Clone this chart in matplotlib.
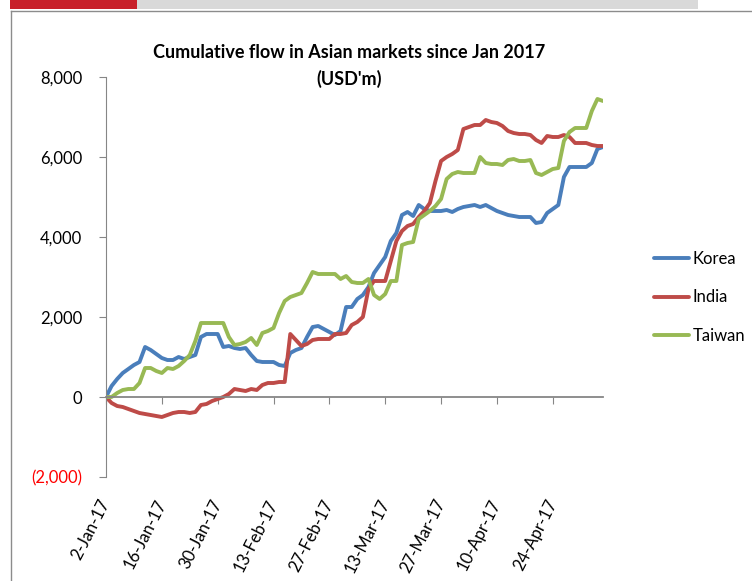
import matplotlib
matplotlib.use("Agg")
import matplotlib.pyplot as plt
from matplotlib.patches import Rectangle
from matplotlib.lines import Line2D
from matplotlib.ticker import FuncFormatter

plt.rcParams['font.family'] = ['Lato', 'DejaVu Sans']

# business days from 2-Jan-17, labelled every 10th day
tick_labels = ["2-Jan-17", "16-Jan-17", "30-Jan-17", "13-Feb-17", "27-Feb-17",
               "13-Mar-17", "27-Mar-17", "10-Apr-17", "24-Apr-17"]

korea = [0, 275, 450, 600, 700, 800, 875, 1250, 1175, 1075,
         975, 925, 925, 1000, 950, 1000, 1050, 1500, 1575, 1575,
         1575, 1250, 1275, 1225, 1200, 1225, 1050, 900, 875, 875,
         875, 800, 775, 1100, 1175, 1225, 1500, 1750, 1775, 1700,
         1625, 1550, 1650, 2250, 2250, 2450, 2550, 2750, 3100, 3300,
         3500, 3900, 4100, 4550, 4625, 4525, 4800, 4700, 4650, 4650,
         4650, 4675, 4625, 4700, 4750, 4775, 4800, 4750, 4800, 4725,
         4650, 4600, 4550, 4525, 4500, 4500, 4500, 4350, 4375, 4600,
         4700, 4800, 5500, 5750, 5750, 5750, 5750, 5850, 6200, 6250]

india = [0, -150, -225, -250, -300, -350, -400, -425, -450, -475,
         -500, -450, -400, -375, -375, -400, -375, -200, -175, -100,
         -50, 0, 75, 200, 175, 150, 200, 175, 300, 350,
         350, 375, 375, 1575, 1425, 1275, 1325, 1425, 1450, 1450,
         1450, 1575, 1575, 1600, 1800, 1875, 2000, 2700, 2900, 2900,
         2900, 3400, 3900, 4150, 4275, 4325, 4500, 4650, 4850, 5400,
         5900, 6000, 6075, 6175, 6700, 6750, 6800, 6800, 6925, 6875,
         6850, 6775, 6650, 6600, 6575, 6575, 6550, 6425, 6350, 6525,
         6500, 6500, 6550, 6500, 6350, 6350, 6350, 6300, 6275, 6275]

taiwan = [0, 0, 100, 175, 200, 200, 350, 725, 725, 650,
          600, 725, 700, 775, 900, 1050, 1400, 1850, 1850, 1850,
          1850, 1850, 1500, 1300, 1325, 1375, 1475, 1300, 1600, 1650,
          1725, 2100, 2400, 2500, 2550, 2600, 2850, 3125, 3075, 3075,
          3075, 3075, 2950, 3025, 2875, 2850, 2850, 2950, 2550, 2450,
          2575, 2900, 2900, 3800, 3850, 3875, 4450, 4550, 4650, 4775,
          4950, 5450, 5575, 5625, 5600, 5600, 5600, 6000, 5850, 5825,
          5825, 5800, 5925, 5950, 5900, 5900, 5925, 5600, 5550, 5625,
          5700, 5725, 6400, 6625, 6725, 6725, 6725, 7150, 7450, 7400]

series = [("Korea", korea, "#4A7EBB"),
          ("India", india, "#BE4B48"),
          ("Taiwan", taiwan, "#98B954")]

W, H = 752, 581
fig = plt.figure(figsize=(W / 100, H / 100), dpi=100)

# page decorations: header bars and frame
fig.add_artist(Rectangle((10 / W, 1 - 9 / H), 127 / W, 9 / H, transform=fig.transFigure,
                         color="#C8202A", lw=0))
fig.add_artist(Rectangle((137 / W, 1 - 9 / H), 561 / W, 9 / H, transform=fig.transFigure,
                         color="#D9D9D9", lw=0))
fig.add_artist(Line2D([10.5 / W, 1], [1 - 11 / H, 1 - 11 / H], transform=fig.transFigure,
                      color="#8C8C8C", lw=1))
fig.add_artist(Line2D([10.5 / W, 10.5 / W], [0, 1 - 11 / H], transform=fig.transFigure,
                      color="#8C8C8C", lw=1))

ax = fig.add_axes([106 / W, 1 - 477 / H, 497 / W, 400 / H])
x = list(range(len(korea)))
for name, vals, col in series:
    ax.plot(x, vals, color=col, lw=2.8, label=name, solid_capstyle="round")

ax.set_xlim(0, len(korea) - 1)
ax.set_ylim(-2000, 8000)
ax.set_yticks(range(-2000, 8001, 2000))
ax.yaxis.set_major_formatter(FuncFormatter(
    lambda v, p: f"({abs(v):,.0f})" if v < 0 else f"{v:,.0f}"))
ax.tick_params(axis="y", direction="out", length=5, color="#868686", pad=12,
               labelsize=12)
for lab in ax.get_yticklabels():
    if lab.get_text().startswith("("):
        lab.set_color("#FF0000")

for s in ["top", "right"]:
    ax.spines[s].set_visible(False)
ax.spines["left"].set_color("#868686")
ax.spines["bottom"].set_position(("data", 0))
ax.spines["bottom"].set_color("#868686")
ax.spines["bottom"].set_linewidth(1.3)

ticks = list(range(0, len(korea), 10))
ax.set_xticks(ticks)
ax.tick_params(axis="x", direction="out", length=5, color="#868686", labelbottom=False)

sec = ax.secondary_xaxis(0)
sec.set_xticks(ticks)
sec.set_xticklabels(tick_labels, rotation=63, ha="right", va="center", rotation_mode="anchor")
sec.tick_params(length=0, pad=17, labelsize=12)
sec.spines["bottom"].set_visible(False)

fig.text(349 / W, 1 - 52 / H, "Cumulative flow in Asian markets since Jan 2017",
         ha="center", va="center", fontsize=13, fontweight="bold")
fig.text(349 / W, 1 - 79 / H, "(USD'm)", ha="center", va="center",
         fontsize=13, fontweight="bold")

fig.legend(loc="upper left", bbox_to_anchor=(654 / W, 1 - 251 / H), frameon=False,
           fontsize=12, handlelength=2.1, handletextpad=0.2, labelspacing=1.35,
           borderpad=0, borderaxespad=0)

fig.savefig("out.png", dpi=100)
